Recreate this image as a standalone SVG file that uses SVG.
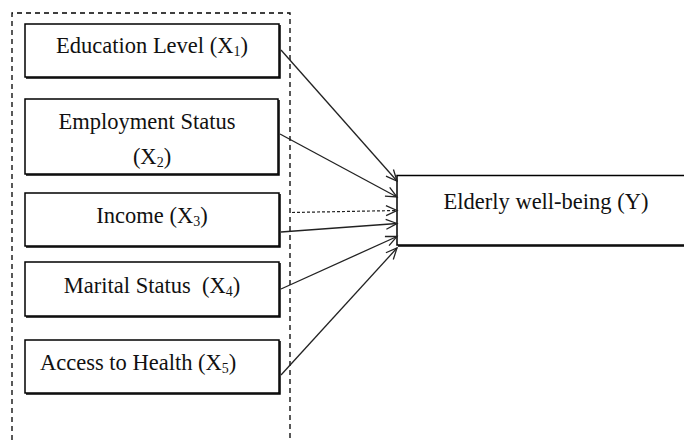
<svg xmlns="http://www.w3.org/2000/svg" width="684" height="440" viewBox="0 0 684 440">
<style>
.box{fill:#fff;stroke:#000;stroke-width:1.5}
.shadow{fill:none;stroke:#000;stroke-width:1.5}
.frame{fill:none;stroke:#000;stroke-width:1.3;stroke-dasharray:5,4}
.lbl{font-family:"Liberation Serif","DejaVu Serif",serif;font-size:22.5px;fill:#111}
.sub{font-size:14px}
.conn{stroke:#222;stroke-width:1.3;fill:none;marker-end:url(#arr)}
.dash{stroke-dasharray:3,2;stroke-width:1.2}
</style>
<defs>
<marker id="arr" markerUnits="userSpaceOnUse" markerWidth="14" markerHeight="14" refX="12" refY="6" orient="auto">
<path d="M1,1 L12,6 L1,11" fill="none" stroke="#222" stroke-width="1.3"/>
</marker>
</defs>
<rect width="684" height="440" fill="#fff"/>
<path class="frame" d="M12,440 L12,13 L290,13 L290,440"/>
<g id="n1">
<rect class="box" x="25" y="24" width="254" height="53"/>
<path class="shadow" d="M26,78 L280,78 L280,25"/>
<text class="lbl" x="152" y="53" text-anchor="middle">Education Level (X<tspan class="sub" dy="3">1</tspan><tspan dy="-3">)</tspan></text>
</g>
<g id="n2">
<rect class="box" x="25" y="99" width="253" height="75"/>
<path class="shadow" d="M26,175 L279,175 L279,100"/>
<text class="lbl" x="147" y="129" text-anchor="middle">Employment Status</text>
<text class="lbl" x="152" y="164" text-anchor="middle">(X<tspan class="sub" dy="3">2</tspan><tspan dy="-3">)</tspan></text>
</g>
<g id="n3">
<rect class="box" x="25" y="193" width="254" height="53"/>
<path class="shadow" d="M26,247 L280,247 L280,194"/>
<text class="lbl" x="152" y="223" text-anchor="middle">Income (X<tspan class="sub" dy="3">3</tspan><tspan dy="-3">)</tspan></text>
</g>
<g id="n4">
<rect class="box" x="25" y="262" width="254" height="54"/>
<path class="shadow" d="M26,317 L280,317 L280,263"/>
<text class="lbl" x="152" y="293" text-anchor="middle" xml:space="preserve">Marital Status  (X<tspan class="sub" dy="3">4</tspan><tspan dy="-3">)</tspan></text>
</g>
<g id="n5">
<rect class="box" x="25" y="340" width="254" height="53"/>
<path class="shadow" d="M26,394 L280,394 L280,341"/>
<text class="lbl" x="40" y="370">Access to Health (X<tspan class="sub" dy="3">5</tspan><tspan dy="-3">)</tspan></text>
</g>
<g id="ny">
<rect class="box" x="397" y="175.5" width="300" height="69.5"/>
<path class="shadow" d="M398,246 L690,246"/>
<text class="lbl" x="546" y="209" text-anchor="middle">Elderly well-being (Y)</text>
</g>
<g id="connectors">
<line class="conn" x1="281" y1="50" x2="397" y2="181"/>
<line class="conn" x1="280" y1="134" x2="397" y2="197"/>
<line class="conn dash" x1="292" y1="212.5" x2="397" y2="210.5"/>
<line class="conn" x1="281" y1="232" x2="397" y2="223.5"/>
<line class="conn" x1="281" y1="289" x2="397" y2="236.5"/>
<line class="conn" x1="281" y1="375" x2="397" y2="248"/>
</g>
</svg>
